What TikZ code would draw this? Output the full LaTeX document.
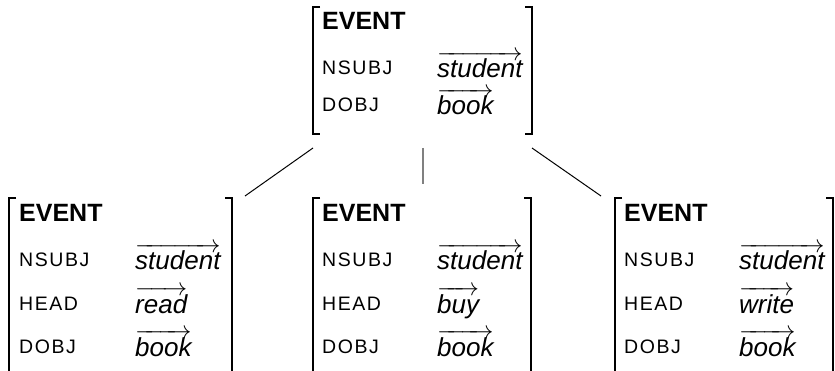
\documentclass[tikz,border=0pt]{standalone}
\usepackage{fontspec}
\setmainfont{Liberation Sans}
\newfontfamily\labfont[LetterSpace=8]{Liberation Sans}
\newcommand\vw[1]{$\overrightarrow{\mbox{\itshape #1}}$}
\begin{document}
\begin{tikzpicture}[x=1pt,y=-1pt,
  fsbox/.style={draw=none,inner sep=0pt,outer sep=0pt},
  brk/.style={line width=1.8pt,line cap=butt},
  conn/.style={line width=1pt,black},
  connmid/.style={line width=1.2pt,gray},
  evt/.style={anchor=base west,inner sep=0pt,font={\fontsize{25}{28}\selectfont\bfseries}},
  lab/.style={anchor=base west,inner sep=0pt,font={\labfont\fontsize{19.5}{22}\selectfont}},
  val/.style={anchor=base west,inner sep=0pt,font={\fontsize{26}{30}\selectfont}}]
\useasboundingbox (0,0) rectangle (835,371);

% matrix boxes
\node[fsbox,minimum width=219pt,minimum height=127pt] (t) at (422.5,70.5) {};
\node[fsbox,minimum width=223pt,minimum height=174pt] (l) at (120.5,285) {};
\node[fsbox,minimum width=218pt,minimum height=174pt] (m) at (422,285) {};
\node[fsbox,minimum width=218pt,minimum height=174pt] (r) at (724,285) {};

% brackets
\draw[brk] ([xshift=7pt]t.north west) -- (t.north west) -- (t.south west) -- ([xshift=7pt]t.south west);
\draw[brk] ([xshift=-7pt]t.north east) -- (t.north east) -- (t.south east) -- ([xshift=-7pt]t.south east);
\foreach \b in {l,m,r}{
  \draw[brk] ([xshift=7pt]\b.north west) -- (\b.north west) -- (\b.south west);
  \draw[brk] ([xshift=-7pt]\b.north east) -- (\b.north east) -- (\b.south east);
}

% top matrix
\node[evt] (t0) at (322,30) {EVENT};
\node[lab] (t1) at (322,75) {NSUBJ};
\node[val] (t1v) at (437,78) {\vw{student}};
\node[lab] (t2) at (322,112) {DOBJ};
\node[val] (t2v) at (437,115) {\vw{book}};

% left matrix
\node[evt] (l0) at (19,222) {EVENT};
\node[lab] (l1) at (19,267) {NSUBJ};
\node[val] (l1v) at (135,270) {\vw{student}};
\node[lab] (l2) at (19,310) {HEAD};
\node[val] (l2v) at (135,313) {\vw{read}};
\node[lab] (l3) at (19,353) {DOBJ};
\node[val] (l3v) at (135,356) {\vw{book}};

% middle matrix
\node[evt] (m0) at (322,222) {EVENT};
\node[lab] (m1) at (322,267) {NSUBJ};
\node[val] (m1v) at (437,270) {\vw{student}};
\node[lab] (m2) at (322,310) {HEAD};
\node[val] (m2v) at (437,313) {\vw{buy}};
\node[lab] (m3) at (322,353) {DOBJ};
\node[val] (m3v) at (437,356) {\vw{book}};

% right matrix
\node[evt] (r0) at (624,222) {EVENT};
\node[lab] (r1) at (624,267) {NSUBJ};
\node[val] (r1v) at (739,270) {\vw{student}};
\node[lab] (r2) at (624,310) {HEAD};
\node[val] (r2v) at (739,313) {\vw{write}};
\node[lab] (r3) at (624,353) {DOBJ};
\node[val] (r3v) at (739,356) {\vw{book}};

% connectors
\draw[conn] ([shift={(0,14)}]t.south west) -- ([shift={(13,-2)}]l.north east);
\draw[connmid] ([shift={(0.5,14)}]t.south) -- ([shift={(1,-14)}]m.north);
\draw[conn] ([shift={(0,14)}]t.south east) -- ([shift={(-14,-2)}]r.north west);
\end{tikzpicture}
\end{document}
